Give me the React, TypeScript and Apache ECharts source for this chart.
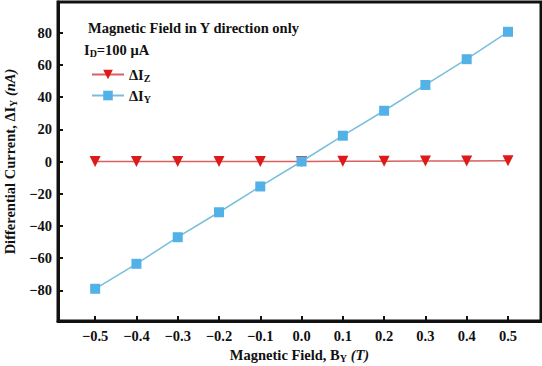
import React, { useEffect, useRef } from "react";
import * as echarts from "echarts";

const fieldValues = [-0.5, -0.4, -0.3, -0.2, -0.1, 0.0, 0.1, 0.2, 0.3, 0.4, 0.5];
const deltaIZ = [0, 0, 0, 0, 0, 0, 0.2, 0.2, 0.3, 0.3, 0.4];
const deltaIY = [-79, -63.5, -47, -31.5, -15.5, 0, 16, 31.5, 47.5, 63.5, 80.5];
const xTicks = [-0.5, -0.4, -0.3, -0.2, -0.1, 0.0, 0.1, 0.2, 0.3, 0.4, 0.5];
const yTicks = [-80, -60, -40, -20, 0, 20, 40, 60, 80];

const FONT = "'Liberation Serif', 'Times New Roman', serif";
const RED = "#dd1a1a";
const BLUE = "#52b2e8";
const FS = 14.5;

export default function App() {
  const ref = useRef<HTMLDivElement>(null);
  useEffect(() => {
    if (!ref.current) return;
    const chart = echarts.init(ref.current, null, { renderer: "svg" });
    const minus = (s: string) => s.replace("-", "\u2212");
    const base = { fontFamily: FONT, fontWeight: "bold" as const, color: "#111" };
    const richName = {
      t: { ...base, fontSize: FS },
      s: { ...base, fontSize: 10, verticalAlign: "bottom", padding: [7, 0, 0, 0] },
      i: { ...base, fontSize: FS, fontStyle: "italic" },
    };
    chart.setOption({
      animation: false,
      backgroundColor: "#fff",
      grid: {
        left: 58,
        right: 1,
        top: 2,
        bottom: 45,
        show: true,
        borderColor: "#111",
        borderWidth: 3,
        outerBoundsMode: "none",
        containLabel: false,
      },
      xAxis: {
        type: "value",
        min: -0.59,
        max: 0.58,
        name: "{t|Magnetic Field, B}{s|Y}{t| }{i|(T)}",
        nameLocation: "middle",
        nameGap: 24,
        nameTextStyle: { rich: richName },
        axisLine: { show: true, onZero: false, lineStyle: { color: "#111", width: 3 } },
        axisTick: {
          show: true,
          inside: true,
          length: 5,
          customValues: xTicks,
          lineStyle: { color: "#111", width: 2 },
        },
        axisLabel: {
          customValues: xTicks,
          margin: 7,
          fontFamily: FONT,
          fontWeight: "bold",
          fontSize: FS,
          color: "#111",
          formatter: (v: number) => minus(v.toFixed(1)),
        },
        splitLine: { show: false },
      },
      yAxis: {
        type: "value",
        min: -99,
        max: 99,
        name: "{t|Differential Current, \u0394I}{s|Y}{t| }{i|(nA)}",
        nameLocation: "middle",
        nameGap: 32,
        nameTextStyle: { rich: richName },
        axisLine: { show: true, onZero: false, lineStyle: { color: "#111", width: 3 } },
        axisTick: {
          show: true,
          inside: true,
          length: 5,
          customValues: yTicks,
          lineStyle: { color: "#111", width: 2 },
        },
        axisLabel: {
          customValues: yTicks,
          margin: 6,
          fontFamily: FONT,
          fontWeight: "bold",
          fontSize: FS,
          color: "#111",
          formatter: (v: number) => minus(String(v)),
        },
        splitLine: { show: false },
      },
      legend: {
        orient: "vertical",
        left: 86,
        top: 62,
        itemWidth: 32,
        itemHeight: 12,
        itemGap: 5,
        data: ["Z", "Y"],
        formatter: (name: string) => `{t|\u0394I}{s|${name}}`,
        textStyle: { rich: richName },
      },
      graphic: [
        {
          type: "text",
          left: 88,
          top: 20,
          style: {
            text: "Magnetic Field in Y direction only",
            font: `bold ${FS}px ${FONT}`,
            fill: "#111",
          },
        },
        {
          type: "text",
          left: 84,
          top: 42,
          style: {
            text: "{t|I}{s|D}{t|=100 \u03bcA}",
            fill: "#111",
            rich: richName,
          },
        },
      ],
      series: [
        {
          name: "Z",
          type: "line",
          data: fieldValues.map((x, i) => [x, deltaIZ[i]]),
          symbol: "triangle",
          symbolRotate: 180,
          symbolSize: 11,
          itemStyle: { color: RED },
          lineStyle: { color: "#d86060", width: 1.5 },
          z: 2,
        },
        {
          name: "Y",
          type: "line",
          data: fieldValues.map((x, i) => [x, deltaIY[i]]),
          symbol: "rect",
          symbolSize: 10,
          itemStyle: { color: BLUE },
          lineStyle: { color: "#78bedd", width: 1.5 },
          z: 3,
        },
      ],
    });
    return () => chart.dispose();
  }, []);
  return <div ref={ref} style={{ width: 542, height: 366, position: "absolute", left: 0, top: 0 }} />;
}
